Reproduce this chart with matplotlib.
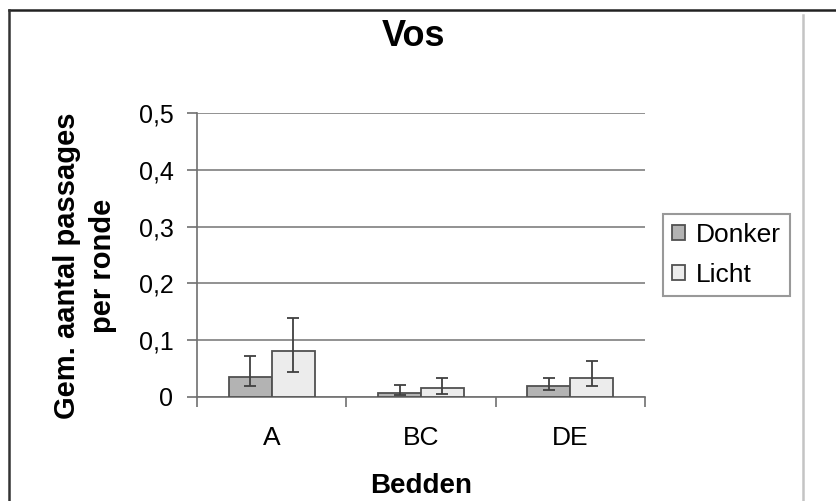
import numpy as np
import matplotlib.pyplot as plt
from matplotlib.lines import Line2D

plt.rcParams['font.family'] = ['Liberation Sans', 'DejaVu Sans']

# mean passes per round for each bed group
categories = ["A", "BC", "DE"]
series_names = ["Donker", "Licht"]
donker = [0.035, 0.007, 0.019]
licht = [0.081, 0.016, 0.034]
# error bar ends (lower, upper)
donker_lo = [0.019, 0.004, 0.012]
donker_hi = [0.072, 0.021, 0.034]
licht_lo = [0.044, 0.006, 0.019]
licht_hi = [0.139, 0.034, 0.063]

colors = ["#b3b3b3", "#ececec"]
edge = "#505050"

fig = plt.figure(figsize=(8.36, 5.01), dpi=100)
ax = fig.add_axes([197 / 836, 1 - 397 / 501, 448 / 836, 284 / 501])

x = np.arange(len(categories))
w = 0.287
series = [(donker, donker_lo, donker_hi), (licht, licht_lo, licht_hi)]
for k, (vals, lo, hi) in enumerate(series):
    pos = x + (k - 0.5) * w
    vals = np.array(vals)
    yerr = [vals - np.array(lo), np.array(hi) - vals]
    ax.bar(pos, vals, width=w, color=colors[k], edgecolor=edge, linewidth=1.3,
           label=series_names[k], zorder=3)
    ax.errorbar(pos, vals, yerr=yerr, fmt="none", ecolor="#404040",
                elinewidth=1.3, capsize=4.5, capthick=1.3, zorder=4)

ax.set_xlim(-0.5, 2.5)
ax.set_ylim(0, 0.5)
ax.set_yticks([0, 0.1, 0.2, 0.3, 0.4, 0.5])
ax.set_yticklabels(["0", "0,1", "0,2", "0,3", "0,4", "0,5"], fontsize=18)
ax.yaxis.grid(True, color="#7f7f7f", linewidth=1.2, zorder=0)
ax.set_axisbelow(True)

ax.set_xticks(x)
ax.set_xticklabels(categories, fontsize=19)
ax.set_xticks([-0.5, 0.5, 1.5, 2.5], minor=True)
ax.tick_params(axis="x", which="major", length=0, pad=21)
ax.tick_params(axis="x", which="minor", length=7, width=1.2, color="#707070")
ax.tick_params(axis="y", length=7, width=1.2, color="#707070", pad=10)

for side in ["top", "right"]:
    ax.spines[side].set_visible(False)
for side in ["left", "bottom"]:
    ax.spines[side].set_color("#707070")
    ax.spines[side].set_linewidth(1.2)

ax.set_xlabel("Bedden", fontsize=20, fontweight="bold")
ax.xaxis.set_label_coords(0.5, -(486 - 397) / 284)
ax.xaxis.label.set_va("center")

ax.set_ylabel("Gem. aantal passages\nper ronde", fontsize=21,
              fontweight="bold", linespacing=1.35)
ax.yaxis.set_label_coords((85 - 197) / 448, (397 - 266) / 284)
ax.yaxis.label.set_va("center")

fig.text(414 / 836, 1 - 37 / 501, "Vos", fontsize=26, fontweight="bold",
         ha="center", va="center")

leg = ax.legend(loc="center left", bbox_to_anchor=(663 / 836, 1 - 255 / 501),
                bbox_transform=fig.transFigure, fontsize=19, frameon=True,
                fancybox=False, edgecolor="#808080", handlelength=0.5,
                handleheight=0.5, handletextpad=0.4, borderpad=0.35,
                labelspacing=0.6, borderaxespad=0)
leg.get_frame().set_linewidth(1.5)

# frame lines around the figure
fig.add_artist(Line2D([9 / 836, 1], [1 - 10 / 501] * 2, color="#222222", lw=1.8,
                      transform=fig.transFigure))
fig.add_artist(Line2D([9 / 836] * 2, [0, 1 - 10 / 501], color="#333333", lw=1.8,
                      transform=fig.transFigure))
fig.add_artist(Line2D([803 / 836] * 2, [0, 1 - 15 / 501], color="#c4c4c4", lw=1.8,
                      transform=fig.transFigure))

fig.savefig("out.png", dpi=100)
